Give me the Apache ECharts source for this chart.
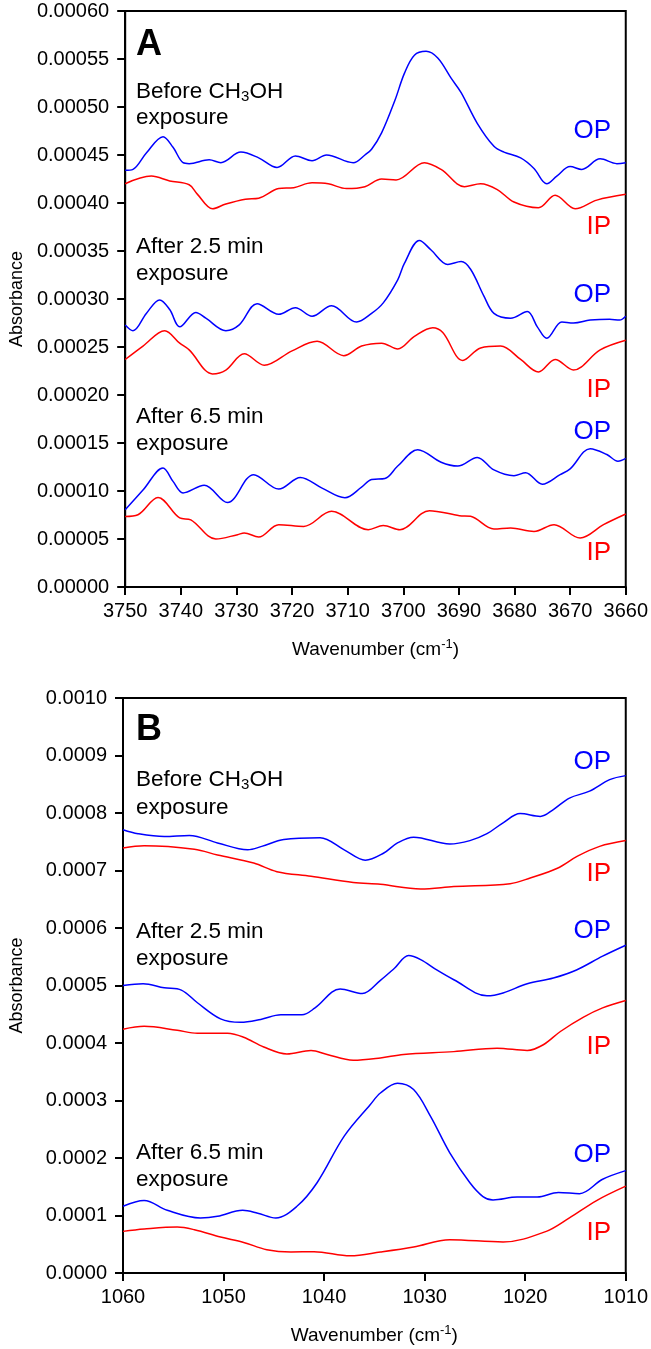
<!DOCTYPE html>
<html>
<head>
<meta charset="utf-8">
<script src="https://cdn.jsdelivr.net/npm/echarts@6/dist/echarts.min.js"></script>
<style>
  html, body { margin: 0; padding: 0; background: #fff; }
  #chart { width: 651px; height: 1349px; }
</style>
</head>
<body>
<div id="chart"></div>
<script>
// panel A: O-H region, wavenumber (cm-1) vs absorbance
const aBeforeOP = [[3750,0.000434],[3748.6,0.000435],[3746.2,0.000452],[3743.2,0.000469],[3741.4,0.000458],[3739.6,0.000442],[3738.5,0.000441],[3734.9,0.000445],[3732.8,0.000442],[3729.2,0.000453],[3726,0.000447],[3722.7,0.000437],[3719.4,0.000449],[3716.4,0.000444],[3713.8,0.00045],[3709,0.000442],[3706.9,0.00045],[3705.7,0.000456],[3703.9,0.000473],[3701.5,0.000507],[3699.8,0.000535],[3698,0.000554],[3695.9,0.000558],[3693.8,0.000551],[3691.4,0.00053],[3689.6,0.000515],[3686.7,0.000483],[3683.7,0.000459],[3681.9,0.000453],[3678.9,0.000447],[3676.5,0.000436],[3674.2,0.00042],[3672.4,0.000428],[3670,0.000438],[3667.9,0.000435],[3664.6,0.000446],[3661.6,0.000441],[3660,0.000442]];
const aBeforeIP = [[3750,0.00042],[3745.3,0.000428],[3742,0.000423],[3738.5,0.000419],[3737,0.000409],[3734.3,0.000394],[3731.9,0.000399],[3728.4,0.000404],[3726,0.000405],[3722.4,0.000415],[3719.7,0.000416],[3716.4,0.000421],[3713.5,0.00042],[3710.2,0.000415],[3706.9,0.000417],[3703.9,0.000425],[3701.3,0.000424],[3696.2,0.000442],[3693.2,0.000435],[3689,0.000417],[3686.1,0.00042],[3683.1,0.000414],[3680.1,0.000401],[3675.7,0.000395],[3672.7,0.000408],[3669.1,0.000394],[3665.2,0.000403],[3660,0.000409]];
const a25OP = [[3750,0.000273],[3748.6,0.000267],[3746.2,0.000285],[3743.8,0.000299],[3742,0.000289],[3740.2,0.000271],[3737.3,0.000286],[3735.5,0.00028],[3731.9,0.000267],[3729.5,0.000273],[3726.3,0.000295],[3722.4,0.000284],[3719.4,0.000291],[3716.4,0.000282],[3712.9,0.000293],[3708.4,0.000276],[3705.7,0.000285],[3703.6,0.000296],[3701,0.00032],[3699.8,0.000337],[3697.1,0.000361],[3695,0.000351],[3692,0.000336],[3689.6,0.000339],[3687.9,0.000331],[3685.5,0.000303],[3683.7,0.000285],[3680.7,0.00028],[3677.7,0.000287],[3675.9,0.000271],[3674.2,0.000259],[3671.5,0.000276],[3669.4,0.000275],[3666.4,0.000278],[3662.9,0.000279],[3661.1,0.000278],[3660,0.000282]];
const a25IP = [[3750,0.000237],[3746.8,0.000251],[3742.9,0.000267],[3740.2,0.000254],[3738.5,0.000247],[3734.3,0.000222],[3731.9,0.000226],[3728.6,0.000243],[3725,0.000231],[3720,0.000246],[3715.5,0.000256],[3710.7,0.000241],[3707.5,0.000251],[3703.9,0.000254],[3701,0.000248],[3698,0.000261],[3694.7,0.00027],[3692.9,0.000265],[3689.3,0.000236],[3686.1,0.000249],[3682.5,0.000251],[3678.9,0.000237],[3675.7,0.000224],[3672.7,0.000237],[3669.4,0.000226],[3664.6,0.000247],[3660,0.000257]];
const a65OP = [[3750,0.0000805],[3746.8,0.000101],[3743.2,0.000124],[3741.4,0.00011],[3739.6,0.000098],[3735.8,0.000106],[3731.6,0.000088],[3726.9,0.000117],[3722.4,0.000102],[3718.5,0.000114],[3714.6,0.000103],[3710.5,0.000093],[3707.5,0.000104],[3705.7,0.000112],[3703.3,0.000113],[3701,0.000126],[3697.4,0.000143],[3693.2,0.00013],[3690.2,0.000126],[3686.7,0.000135],[3683.7,0.000122],[3680.1,0.000116],[3678,0.000119],[3675,0.000107],[3671.8,0.000117],[3670,0.000123],[3666.4,0.000144],[3663.4,0.000138],[3661.4,0.000131],[3660,0.000134]];
const a65IP = [[3750,0.0000735],[3747.7,0.0000753],[3744.1,0.0000933],[3740.2,0.0000719],[3738.2,0.00007],[3733.7,0.00005],[3729.8,0.0000545],[3728.6,0.0000563],[3726,0.0000521],[3722.4,0.0000649],[3717.9,0.0000631],[3712.9,0.0000788],[3706.3,0.0000597],[3703.6,0.000064],[3700.6,0.0000597],[3695.3,0.0000795],[3689.9,0.0000743],[3687.9,0.0000736],[3683.7,0.0000604],[3680.7,0.0000615],[3676.5,0.0000579],[3672.9,0.0000649],[3668.2,0.000051],[3664,0.0000649],[3660,0.000076]];

// panel B: C-O region
const bBeforeOP = [[1060,0.000771],[1058.5,0.000764],[1055.9,0.000759],[1053.4,0.000761],[1050.6,0.000748],[1047.6,0.000736],[1046.2,0.000742],[1044,0.000754],[1040.4,0.000757],[1038,0.000736],[1035.9,0.000718],[1034.1,0.00073],[1032.7,0.000748],[1031.1,0.000758],[1027.5,0.000746],[1025.5,0.000752],[1023.8,0.000764],[1022.2,0.000783],[1020.5,0.000799],[1018.5,0.000794],[1017.2,0.000806],[1015.6,0.000826],[1013.6,0.000838],[1011.6,0.000858],[1010,0.000865]];
const bBeforeIP = [[1060,0.000739],[1057.9,0.000743],[1052.9,0.000737],[1050.6,0.000727],[1047,0.000713],[1044.7,0.000698],[1041.3,0.00069],[1037.1,0.000679],[1034.4,0.000676],[1030.4,0.000668],[1027.1,0.000672],[1021.5,0.000677],[1019.5,0.000687],[1016.8,0.000704],[1014.8,0.000725],[1012.6,0.000742],[1010,0.000752]];
const b25OP = [[1060,0.0005],[1058,0.000503],[1055.9,0.000496],[1054.2,0.000492],[1052.6,0.00047],[1050.3,0.000442],[1048.3,0.000436],[1046.3,0.000441],[1044.3,0.000449],[1042.2,0.000449],[1040.9,0.000461],[1038.4,0.000494],[1036.2,0.000486],[1034.4,0.000509],[1033,0.00053],[1031.6,0.000552],[1030.4,0.000545],[1028.8,0.000527],[1027.1,0.00051],[1023.8,0.000482],[1022.2,0.000487],[1019.8,0.000503],[1017.2,0.000513],[1014.9,0.000527],[1012.3,0.000551],[1010,0.00057]];
const b25IP = [[1060,0.000424],[1057.9,0.000429],[1054.6,0.000422],[1052.6,0.000417],[1049.6,0.000417],[1048,0.00041],[1046,0.000393],[1043.7,0.000381],[1041.3,0.000387],[1039.7,0.00038],[1037.1,0.00037],[1034.4,0.000374],[1032.1,0.00038],[1027.1,0.000385],[1022.8,0.000391],[1019.8,0.000387],[1018.2,0.000397],[1016.5,0.00042],[1014.2,0.000445],[1012.3,0.000461],[1010,0.000474]];
const b65OP = [[1060,0.000116],[1057.9,0.000126],[1055.6,0.000109],[1052.3,0.0000957],[1050.6,0.0000985],[1048.1,0.000109],[1046.6,0.000104],[1044.8,0.0000957],[1042.7,0.000116],[1040.7,0.000157],[1038,0.000238],[1035.4,0.000293],[1034.4,0.000313],[1032.7,0.00033],[1031.1,0.000319],[1029.4,0.000272],[1027.5,0.000209],[1025.5,0.000157],[1024.2,0.000133],[1023.2,0.000127],[1020.8,0.000132],[1018.8,0.000132],[1016.7,0.00014],[1014.6,0.000138],[1012.3,0.000163],[1010,0.000178]];
const b65IP = [[1060,0.0000724],[1057.9,0.0000765],[1054.6,0.00008],[1052.9,0.0000753],[1050.3,0.0000626],[1048,0.0000532],[1045.7,0.0000405],[1043.3,0.0000365],[1041,0.000037],[1037.4,0.00003],[1034.4,0.0000365],[1031.1,0.0000452],[1027.5,0.0000579],[1022.2,0.0000539],[1017.9,0.0000724],[1015.6,0.0000957],[1012.9,0.000126],[1010,0.000151]];

// axis ranges
const xRangeA = [3660, 3750];
const xRangeB = [1010, 1060];
const yRangeA = [0, 0.0006, 0.00005];
const yRangeB = [0, 0.001, 0.0001];

const FONT = '"Liberation Sans", Arial, sans-serif';
const BLUE = '#0000ff';
const RED = '#ff0000';

const grids = [
    {left: 122, top: 11, width: 504, height: 576},
    {left: 122, top: 698, width: 504, height: 575}
];

function xAxis(idx, range) {
    return {
        type: 'value', gridIndex: idx, inverse: true,
        min: range[0], max: range[1], interval: 10,
        name: '{n|Wavenumber (cm}{s|-1}{n|)}',
        nameLocation: 'middle', nameGap: 51,
        nameTextStyle: {
            rich: {
                n: {fontSize: 19, fontFamily: FONT, color: '#000'},
                s: {fontSize: 13, fontFamily: FONT, color: '#000', padding: [0, 0, 10, 0]}
            }
        },
        axisLine: {show: true, lineStyle: {color: '#000', width: 2}},
        axisTick: {show: true, length: 8, lineStyle: {color: '#000', width: 2}},
        axisLabel: {fontSize: 20, fontFamily: FONT, color: '#000', margin: 14, formatter: v => String(v)},
        splitLine: {show: false}
    };
}

function yAxis(idx, range, digits) {
    return {
        type: 'value', gridIndex: idx,
        min: range[0], max: range[1], interval: range[2],
        name: 'Absorbance', nameLocation: 'middle', nameGap: 97,
        nameTextStyle: {fontSize: 18, fontFamily: FONT, color: '#000'},
        axisLine: {show: true, lineStyle: {color: '#000', width: 2}},
        axisTick: {show: true, length: 8, lineStyle: {color: '#000', width: 2}},
        axisLabel: {
            fontSize: 20, fontFamily: FONT, color: '#000', margin: 16,
            formatter: v => v.toFixed(digits)
        },
        splitLine: {show: false}
    };
}

function line(data, color, idx) {
    return {
        type: 'line', data: data, xAxisIndex: idx, yAxisIndex: idx,
        showSymbol: false, smooth: 0.35,
        lineStyle: {color: color, width: 1.5}
    };
}

// annotation texts
const panelLetters = [['A', 45], ['B', 730]];
const stateLabels = [
    ['{a|Before CH}{s|3}{a|OH}', 92], ['{a|exposure}', 118],
    ['{a|After 2.5 min}', 247], ['{a|exposure}', 274],
    ['{a|After 6.5 min}', 417], ['{a|exposure}', 444],
    ['{a|Before CH}{s|3}{a|OH}', 780], ['{a|exposure}', 808],
    ['{a|After 2.5 min}', 932], ['{a|exposure}', 959],
    ['{a|After 6.5 min}', 1153], ['{a|exposure}', 1180]
];
const opLabels = [131, 295, 432, 762, 931, 1155];
const ipLabels = [227, 390, 553, 874, 1047, 1233];

const graphic = [];
panelLetters.forEach(([t, y]) => graphic.push({
    type: 'text', x: 136, y: y,
    style: {text: t, fontSize: 36, fontWeight: 'bold', fontFamily: FONT, fill: '#000', verticalAlign: 'middle'}
}));
stateLabels.forEach(([t, y]) => graphic.push({
    type: 'text', x: 136, y: y,
    style: {
        text: t, verticalAlign: 'middle', fill: '#000',
        rich: {
            a: {fontSize: 22.5, fontFamily: FONT, fill: '#000'},
            s: {fontSize: 15, fontFamily: FONT, fill: '#000', padding: [10, 0, 0, 0]}
        }
    }
}));
opLabels.forEach(y => graphic.push({
    type: 'text', x: 611, y: y,
    style: {text: 'OP', fontSize: 26, fontFamily: FONT, fill: BLUE, align: 'right', verticalAlign: 'middle'}
}));
ipLabels.forEach(y => graphic.push({
    type: 'text', x: 611, y: y,
    style: {text: 'IP', fontSize: 26, fontFamily: FONT, fill: RED, align: 'right', verticalAlign: 'middle'}
}));

const option = {
    animation: false,
    backgroundColor: '#fff',
    grid: grids.map(g => Object.assign({show: true, borderColor: '#000', borderWidth: 2, backgroundColor: 'transparent'}, g)),
    xAxis: [xAxis(0, xRangeA), xAxis(1, xRangeB)],
    yAxis: [yAxis(0, yRangeA, 5), yAxis(1, yRangeB, 4)],
    series: [
        line(aBeforeOP, BLUE, 0), line(aBeforeIP, RED, 0),
        line(a25OP, BLUE, 0), line(a25IP, RED, 0),
        line(a65OP, BLUE, 0), line(a65IP, RED, 0),
        line(bBeforeOP, BLUE, 1), line(bBeforeIP, RED, 1),
        line(b25OP, BLUE, 1), line(b25IP, RED, 1),
        line(b65OP, BLUE, 1), line(b65IP, RED, 1)
    ],
    graphic: graphic
};

const chart = echarts.init(document.getElementById('chart'));
chart.setOption(option);
</script>
</body>
</html>
